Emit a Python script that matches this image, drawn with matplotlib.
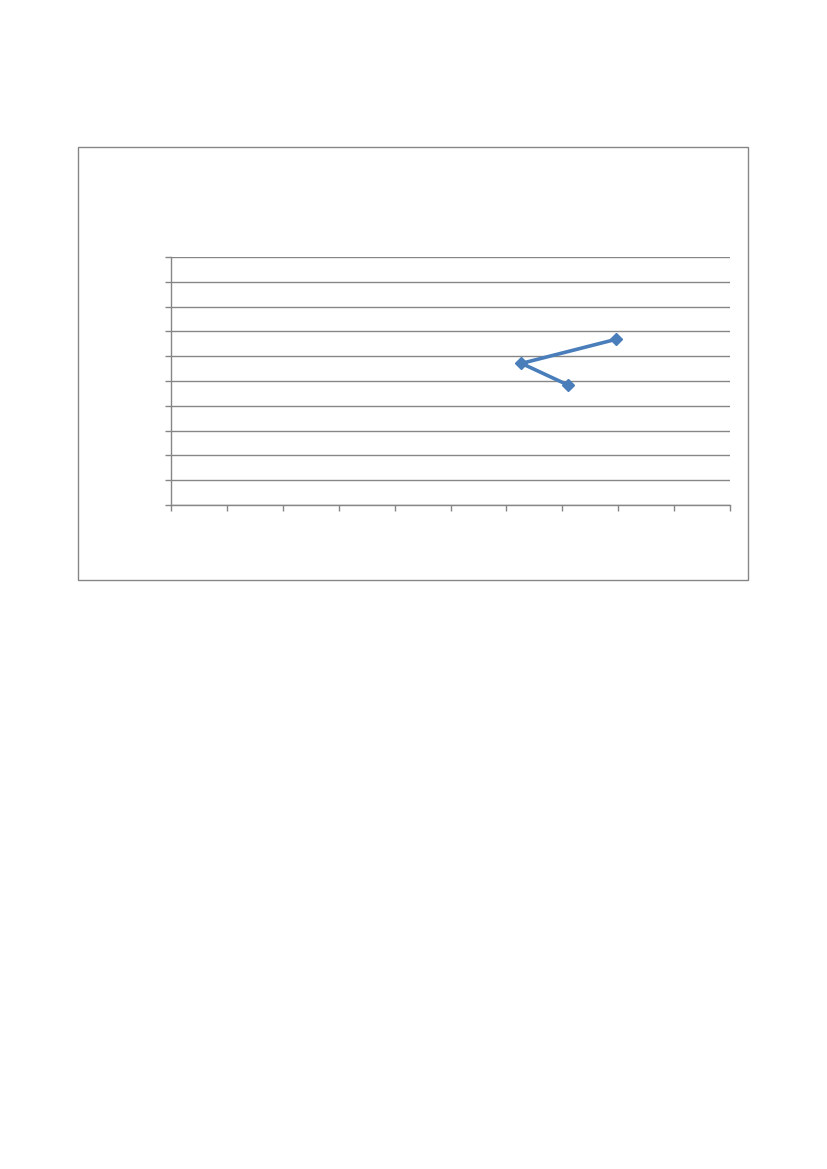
import matplotlib
matplotlib.use('Agg')
import matplotlib.pyplot as plt
from matplotlib.patches import Rectangle

# data (axis has no labels, grid 0..10 both ways)
x_vals = [7.10, 6.27, 7.96]
y_vals = [4.84, 5.71, 6.68]
x_ticks = list(range(0, 11))
y_ticks = list(range(0, 11))

W, H = 827, 1169
fig = plt.figure(figsize=(W / 100, H / 100), dpi=100)

# chart box border
box = Rectangle((78 / W, 1 - 580 / H), (748 - 78) / W, (580 - 147) / H,
                transform=fig.transFigure, fill=False, edgecolor='#868686',
                linewidth=1.0)
fig.patches.append(box)

# plot area
ax = fig.add_axes([171 / W, 1 - 505 / H, (730 - 171) / W, (505 - 257) / H])
ax.plot(x_vals, y_vals, color='#4a7ebb', linewidth=2.6, marker='D',
        markersize=6.5, markerfacecolor='#4a7ebb', markeredgecolor='#4a7ebb',
        zorder=3)

ax.set_xlim(0, 10)
ax.set_ylim(0, 10)
ax.set_xticks(x_ticks)
ax.set_yticks(y_ticks)
ax.set_xticklabels([])
ax.set_yticklabels([])
ax.tick_params(axis='both', direction='out', length=4, width=1.0,
               color='#868686')
ax.grid(True, axis='y', color='#868686', linewidth=1.0)
ax.set_axisbelow(True)

for side in ['top', 'right']:
    ax.spines[side].set_visible(False)
for side in ['left', 'bottom']:
    ax.spines[side].set_color('#868686')
    ax.spines[side].set_linewidth(1.0)

fig.savefig('out.png', dpi=100)
